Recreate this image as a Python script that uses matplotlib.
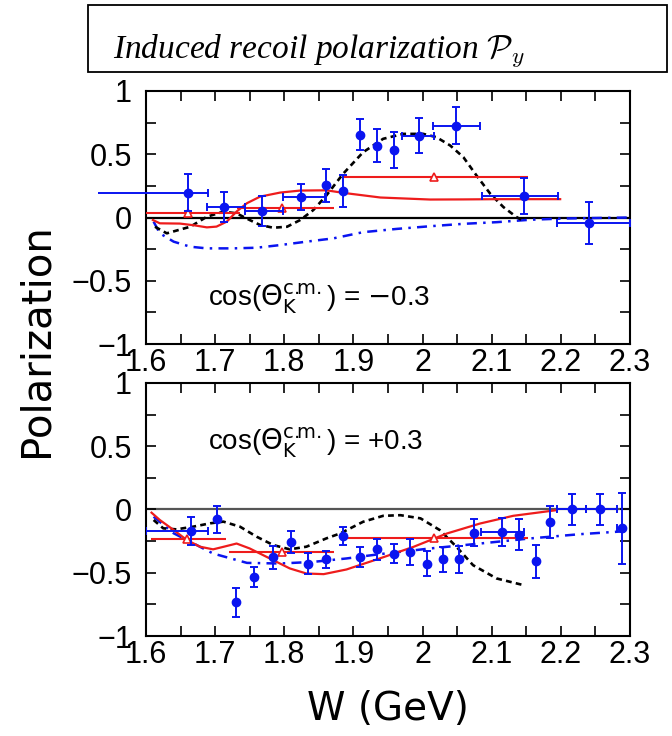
import numpy as np
import matplotlib
matplotlib.use("Agg")
import matplotlib.pyplot as plt
from matplotlib.patches import Rectangle
from matplotlib.ticker import MultipleLocator, FuncFormatter

# ---- data: top panel, cos(theta_K) = -0.3 ----
top_w = [1.661, 1.713, 1.768, 1.824, 1.861, 1.885, 1.910, 1.934, 1.959, 1.995, 2.049, 2.147, 2.240]
top_p = [0.195, 0.082, 0.053, 0.163, 0.256, 0.211, 0.656, 0.569, 0.532, 0.648, 0.725, 0.169, -0.045]
top_perr = [0.145, 0.12, 0.12, 0.10, 0.13, 0.125, 0.125, 0.13, 0.14, 0.14, 0.145, 0.14, 0.165]
top_wlo = [0.131, 0.025, 0.025, 0.026, 0.0, 0.0, 0.0, 0.0, 0.0, 0.025, 0.034, 0.061, 0.045]
top_whi = [0.028, 0.030, 0.030, 0.035, 0.0, 0.0, 0.0, 0.0, 0.0, 0.022, 0.034, 0.049, 0.060]

top_tri_w = [1.661, 1.797, 2.017]
top_tri_p = [0.033, 0.075, 0.319]
top_tri_lo = [1.600, 1.732, 1.885]
top_tri_hi = [1.736, 1.872, 2.152]

top_red_w = [1.610, 1.620, 1.649, 1.670, 1.688, 1.702, 1.717, 1.731, 1.746, 1.765, 1.794,
             1.823, 1.861, 1.885, 1.939, 2.011, 2.059, 2.110, 2.199]
top_red_p = [-0.020, -0.046, -0.048, -0.062, -0.078, -0.072, -0.032, 0.047, 0.113, 0.165, 0.197,
             0.213, 0.215, 0.195, 0.158, 0.142, 0.143, 0.145, 0.145]

top_blk_w = [1.613, 1.630, 1.664, 1.688, 1.712, 1.731, 1.750, 1.765, 1.784, 1.804, 1.823, 1.842,
             1.861, 1.885, 1.914, 1.943, 1.972, 2.001, 2.020, 2.040, 2.059, 2.078, 2.098, 2.117,
             2.136, 2.143]
top_blk_p = [-0.073, -0.125, -0.073, 0.006, 0.046, 0.033, -0.020, -0.059, -0.081, -0.073, -0.020,
             0.059, 0.175, 0.345, 0.516, 0.622, 0.661, 0.661, 0.635, 0.569, 0.477, 0.332, 0.187,
             0.082, 0.003, -0.018]

top_blu_w = [1.611, 1.620, 1.640, 1.664, 1.688, 1.726, 1.760, 1.794, 1.832, 1.871, 1.914, 1.963,
             2.011, 2.059, 2.107, 2.155, 2.204, 2.300]
top_blu_p = [-0.033, -0.125, -0.191, -0.231, -0.244, -0.244, -0.239, -0.218, -0.191, -0.165,
             -0.116, -0.090, -0.069, -0.050, -0.037, -0.018, -0.008, 0.0]

# ---- data: bottom panel, cos(theta_K) = +0.3 ----
bot_w = [1.665, 1.702, 1.730, 1.756, 1.783, 1.809, 1.835, 1.861, 1.885, 1.909, 1.934, 1.959,
         1.982, 2.006, 2.029, 2.052, 2.075, 2.115, 2.140, 2.164, 2.185, 2.216, 2.257, 2.289]
bot_p = [-0.171, -0.079, -0.733, -0.532, -0.379, -0.256, -0.427, -0.395, -0.211, -0.374, -0.316,
         -0.348, -0.335, -0.427, -0.395, -0.395, -0.182, -0.177, -0.198, -0.408, -0.097, 0.0,
         0.0, -0.149]
bot_perr = [0.11, 0.105, 0.115, 0.08, 0.09, 0.085, 0.08, 0.07, 0.072, 0.08, 0.08, 0.078, 0.10,
            0.10, 0.10, 0.105, 0.11, 0.11, 0.12, 0.13, 0.125, 0.12, 0.125, 0.28]
bot_wlo = [0.065, 0, 0, 0, 0, 0, 0, 0, 0, 0, 0, 0, 0, 0, 0, 0, 0, 0.030, 0, 0, 0, 0.022, 0.020, 0.008]
bot_whi = [0.024, 0, 0, 0, 0, 0, 0, 0, 0, 0, 0, 0, 0, 0, 0, 0, 0, 0.031, 0, 0, 0, 0.021, 0.024, 0.0]

bot_tri_w = [1.660, 1.796, 2.017]
bot_tri_p = [-0.237, -0.335, -0.229]
bot_tri_lo = [1.607, 1.720, 1.885]
bot_tri_hi = [1.716, 1.872, 2.152]

bot_red_w = [1.608, 1.620, 1.640, 1.659, 1.678, 1.697, 1.712, 1.731, 1.750, 1.779, 1.808, 1.832,
             1.857, 1.890, 1.938, 1.987, 2.035, 2.083, 2.131, 2.194]
bot_red_p = [-0.025, -0.083, -0.162, -0.241, -0.294, -0.315, -0.295, -0.269, -0.308, -0.387,
             -0.466, -0.506, -0.511, -0.474, -0.387, -0.295, -0.190, -0.111, -0.050, -0.005]

bot_blk_w = [1.611, 1.625, 1.644, 1.668, 1.693, 1.712, 1.736, 1.760, 1.784, 1.808, 1.832, 1.861,
             1.881, 1.914, 1.943, 1.968, 1.997, 2.025, 2.049, 2.073, 2.107, 2.146]
bot_blk_p = [-0.083, -0.149, -0.157, -0.136, -0.109, -0.096, -0.136, -0.215, -0.281, -0.315,
             -0.294, -0.228, -0.189, -0.097, -0.050, -0.045, -0.070, -0.163, -0.295, -0.440,
             -0.545, -0.598]

bot_blu_w = [1.611, 1.640, 1.664, 1.697, 1.746, 1.794, 1.842, 1.890, 1.938, 2.011, 2.083, 2.155,
             2.228, 2.300]
bot_blu_p = [-0.057, -0.188, -0.255, -0.348, -0.422, -0.427, -0.414, -0.387, -0.353, -0.308,
             -0.269, -0.229, -0.195, -0.169]

labels = [r"cos($\Theta_{\rm K}^{\rm c.\!\!m.}$) = $-$0.3",
          r"cos($\Theta_{\rm K}^{\rm c.\!\!m.}$) = +0.3"]
label_pos = [(1.69, -0.64), (1.69, 0.53)]

#%%
plt.rcParams["font.family"] = ["Liberation Sans", "DejaVu Sans"]

BLUE = "#0a14f0"
RED = "#ee1c1c"

fig = plt.figure(figsize=(6.72, 7.36), dpi=100)
ax_top = fig.add_axes([146 / 672, 1 - 344 / 736, 484 / 672, 253 / 736])
ax_bot = fig.add_axes([146 / 672, 1 - 636 / 736, 484 / 672, 253 / 736])


def draw_panel(ax, w, p, perr, wlo, whi, tw, tp, tlo, thi, rw, rp, kw, kp, bw, bp,
               label, pos, zcolor):
    ax.axhline(0, color=zcolor, lw=1.6, zorder=1)
    ax.plot(bw, bp, color=BLUE, lw=1.8, ls=(0, (4, 2.5, 1, 2.5)), zorder=2)
    ax.plot(kw, kp, color="black", lw=1.9, ls=(0, (2.2, 1.6)), zorder=2)
    ax.plot(rw, rp, color=RED, lw=1.6, zorder=3)
    ax.hlines(tp, tlo, thi, color=RED, lw=1.5, zorder=3)
    ax.plot(tw, tp, ls="none", marker="^", ms=6, mfc="white", mec=RED, mew=1.2, zorder=4)
    eb = ax.errorbar(w, p, yerr=perr, xerr=[wlo, whi], fmt="o", color=BLUE, ms=6,
                     elinewidth=1.4, capsize=2.8, capthick=1.4, zorder=5)
    ax.text(pos[0], pos[1], label, fontsize=20, va="center", math_fontfamily="dejavusans")
    return eb


eb_top = draw_panel(ax_top, top_w, top_p, top_perr, top_wlo, top_whi,
                    top_tri_w, top_tri_p, top_tri_lo, top_tri_hi,
                    top_red_w, top_red_p, top_blk_w, top_blk_p, top_blu_w, top_blu_p,
                    labels[0], label_pos[0], "black")
eb_bot = draw_panel(ax_bot, bot_w, bot_p, bot_perr, bot_wlo, bot_whi,
                    bot_tri_w, bot_tri_p, bot_tri_lo, bot_tri_hi,
                    bot_red_w, bot_red_p, bot_blk_w, bot_blk_p, bot_blu_w, bot_blu_p,
                    labels[1], label_pos[1], "#555555")

# the wide first bin in the upper panel runs out past the frame
for coll in eb_top[2]:
    coll.set_clip_on(False)

fmt = FuncFormatter(lambda v, _: f"{v:g}".replace("-", "\u2212"))
for ax in (ax_top, ax_bot):
    ax.set_xlim(1.6, 2.3)
    ax.set_ylim(-1, 1)
    ax.xaxis.set_major_locator(MultipleLocator(0.1))
    ax.xaxis.set_minor_locator(MultipleLocator(0.05))
    ax.yaxis.set_major_locator(MultipleLocator(0.5))
    ax.yaxis.set_minor_locator(MultipleLocator(0.25))
    ax.xaxis.set_major_formatter(fmt)
    ax.yaxis.set_major_formatter(fmt)
    ax.tick_params(which="both", direction="in", top=True, right=True, length=7, width=1.2)
    ax.tick_params(axis="x", labelsize=22, pad=3)
    ax.tick_params(axis="y", labelsize=22, pad=10)
    for s in ax.spines.values():
        s.set_linewidth(1.5)

fig.text(37 / 672, 1 - 340 / 736, "Polarization", rotation=90, ha="center", va="center",
         fontsize=29, family="DejaVu Sans")
fig.text(388 / 672, 1 - 720 / 736, "W (GeV)", ha="center", va="baseline",
         fontsize=28, family="DejaVu Sans")

fig.add_artist(Rectangle((88 / 672, 1 - 72 / 736), 579 / 672, 67 / 736, fill=False,
                         edgecolor="black", lw=1.3, transform=fig.transFigure))
fig.text(113 / 672, 1 - 57 / 736, r"Induced recoil polarization $\mathcal{P}_y$",
         fontsize=24, style="italic", family="Liberation Serif", math_fontfamily="cm",
         va="baseline")

fig.savefig("out.png", dpi=100)
